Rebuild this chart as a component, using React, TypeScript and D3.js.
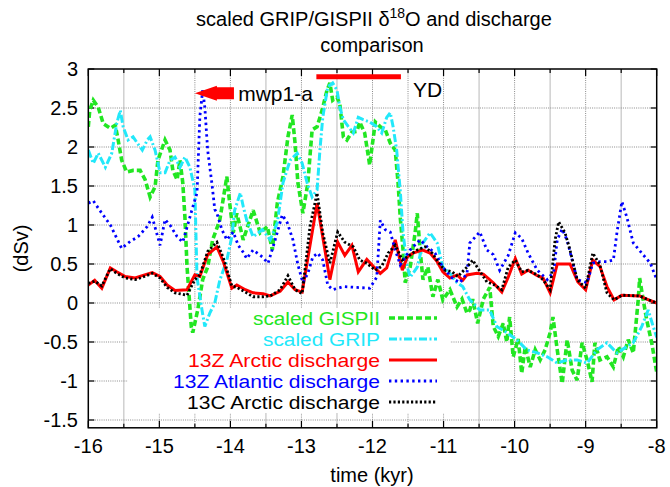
import React from "react";
import * as d3 from "d3";

// ---------------- data (time in kyr, value in dSv) ----------------
const xTicks = [-16, -15, -14, -13, -12, -11, -10, -9, -8];
const yTicks = [-1.5, -1, -0.5, 0, 0.5, 1, 1.5, 2, 2.5, 3];
const yTickLabels = ["-1.5", "-1", "-0.5", "0", "0.5", "1", "1.5", "2", "2.5", "3"];

const gispii: [number, number][] = [
  [-16.0, 2.26], [-15.98, 2.47], [-15.93, 2.6], [-15.86, 2.51], [-15.79, 2.3], [-15.69, 2.24], [-15.62, 2.28],
  [-15.58, 2.09], [-15.53, 1.83], [-15.46, 1.68], [-15.37, 1.7], [-15.27, 1.7], [-15.2, 1.58], [-15.13, 1.36],
  [-15.06, 1.49], [-15.02, 1.83], [-14.92, 2.09], [-14.85, 1.96], [-14.81, 1.7], [-14.75, 1.58], [-14.71, 1.83],
  [-14.67, 1.54], [-14.64, 1.1], [-14.61, 0.46], [-14.55, -0.31], [-14.53, -0.38], [-14.46, -0.09], [-14.39, 0.3],
  [-14.32, 0.46], [-14.25, 0.81], [-14.15, 1.06], [-14.05, 1.62], [-14.01, 1.28], [-13.96, 0.9], [-13.91, 1.15],
  [-13.82, 0.81], [-13.68, 1.19], [-13.58, 0.9], [-13.48, 0.98], [-13.41, 0.68], [-13.34, 1.28], [-13.26, 1.62],
  [-13.19, 2.13], [-13.13, 2.41], [-13.09, 2.05], [-13.05, 1.54], [-12.98, 1.15], [-12.91, 1.54], [-12.85, 2.22],
  [-12.78, 2.26], [-12.71, 2.47], [-12.64, 2.73], [-12.6, 2.82], [-12.56, 2.6], [-12.5, 2.64], [-12.46, 2.55],
  [-12.41, 2.13], [-12.36, 2.09], [-12.29, 2.19], [-12.22, 2.2], [-12.18, 2.32], [-12.11, 2.18], [-12.04, 1.77],
  [-11.96, 2.32], [-11.89, 2.26], [-11.82, 2.22], [-11.75, 2.05], [-11.68, 1.96], [-11.64, 1.54], [-11.61, 1.1],
  [-11.57, 0.68], [-11.54, 0.26], [-11.47, 0.46], [-11.4, 0.9], [-11.37, 1.15], [-11.33, 0.68], [-11.29, 0.3],
  [-11.22, 0.46], [-11.15, 0.08], [-11.08, 0.3], [-11.01, 0.04], [-10.91, 0.17], [-10.81, -0.05], [-10.74, 0.05],
  [-10.67, -0.13], [-10.63, -0.09], [-10.59, 0.05], [-10.52, -0.26], [-10.44, 0.05], [-10.35, 0.2], [-10.3, -0.3],
  [-10.23, -0.43], [-10.16, -0.26], [-10.11, -0.5], [-10.07, -0.18], [-10.02, -0.69], [-9.95, -0.46], [-9.9, -0.9],
  [-9.85, -0.56], [-9.78, -0.82], [-9.71, -0.6], [-9.64, -0.73], [-9.57, -0.6], [-9.5, -0.38], [-9.46, -0.18],
  [-9.4, -0.6], [-9.33, -1.03], [-9.26, -0.47], [-9.19, -0.86], [-9.12, -0.99], [-9.05, -0.51], [-8.98, -0.73],
  [-8.91, -1.01], [-8.87, -0.51], [-8.8, -0.73], [-8.7, -0.69], [-8.61, -0.82], [-8.54, -0.56], [-8.47, -0.69],
  [-8.4, -0.47], [-8.33, -0.64], [-8.26, 0.04], [-8.24, 0.32], [-8.19, 0.04], [-8.14, -0.22], [-8.07, -0.51],
  [-8.0, -0.89],
];

const grip: [number, number][] = [
  [-16.0, 1.96], [-15.93, 1.79], [-15.86, 1.92], [-15.76, 1.74], [-15.67, 1.92], [-15.6, 2.3], [-15.55, 2.47],
  [-15.51, 2.26], [-15.44, 2.09], [-15.37, 2.13], [-15.31, 2.05], [-15.24, 1.96], [-15.17, 2.09], [-15.13, 2.13],
  [-15.06, 1.96], [-14.99, 1.67], [-14.92, 1.67], [-14.85, 1.83], [-14.78, 1.87], [-14.71, 1.74], [-14.64, 1.87],
  [-14.57, 1.74], [-14.5, 1.45], [-14.47, 0.33], [-14.4, -0.09], [-14.36, -0.3], [-14.29, -0.13], [-14.22, 0.0],
  [-14.15, 0.29], [-14.05, 0.55], [-13.98, 0.85], [-13.94, 1.19], [-13.86, 1.41], [-13.82, 1.24], [-13.77, 1.06],
  [-13.68, 0.85], [-13.55, 0.94], [-13.44, 0.81], [-13.34, 1.03], [-13.26, 1.54], [-13.16, 1.83], [-13.06, 1.92],
  [-12.99, 1.79], [-12.92, 1.54], [-12.85, 1.36], [-12.78, 1.45], [-12.74, 1.96], [-12.7, 2.38], [-12.63, 2.77],
  [-12.56, 2.82], [-12.5, 2.73], [-12.46, 2.51], [-12.41, 2.35], [-12.34, 2.26], [-12.27, 2.18], [-12.2, 2.38],
  [-12.13, 2.35], [-12.04, 2.32], [-11.94, 2.26], [-11.87, 2.18], [-11.8, 2.38], [-11.75, 2.44], [-11.71, 2.26],
  [-11.66, 1.96], [-11.61, 1.45], [-11.57, 0.9], [-11.51, 0.46], [-11.47, 0.33], [-11.37, 0.46], [-11.29, 0.77],
  [-11.19, 0.9], [-11.09, 0.77], [-11.01, 0.46], [-10.91, 0.38], [-10.81, 0.26], [-10.73, 0.21], [-10.63, 0.04],
  [-10.49, -0.09], [-10.35, -0.09], [-10.25, -0.3], [-10.11, -0.38], [-9.97, -0.47], [-9.83, -0.6], [-9.68, -0.64],
  [-9.54, -0.69], [-9.4, -0.77], [-9.26, -0.73], [-9.12, -0.73], [-8.98, -0.77], [-8.84, -0.6], [-8.7, -0.51],
  [-8.56, -0.64], [-8.42, -0.56], [-8.33, -0.51], [-8.21, -0.3], [-8.12, -0.09], [-8.05, -0.3], [-8.0, -0.44],
];

const arctic13Z: [number, number][] = [
  [-16.0, 0.23], [-15.91, 0.29], [-15.81, 0.19], [-15.69, 0.45], [-15.6, 0.4], [-15.48, 0.34], [-15.34, 0.32],
  [-15.24, 0.35], [-15.1, 0.39], [-14.99, 0.34], [-14.89, 0.23], [-14.78, 0.16], [-14.61, 0.17], [-14.5, 0.36],
  [-14.43, 0.34], [-14.32, 0.62], [-14.19, 0.72], [-14.1, 0.53], [-13.98, 0.19], [-13.91, 0.23], [-13.79, 0.17],
  [-13.68, 0.13], [-13.54, 0.12], [-13.44, 0.09], [-13.3, 0.15], [-13.19, 0.27], [-13.09, 0.17], [-12.99, 0.14],
  [-12.78, 1.28], [-12.6, 0.3], [-12.49, 0.78], [-12.39, 0.61], [-12.29, 0.74], [-12.2, 0.4], [-12.08, 0.56],
  [-11.99, 0.47], [-11.89, 0.38], [-11.8, 0.45], [-11.68, 0.81], [-11.58, 0.42], [-11.51, 0.59], [-11.43, 0.64],
  [-11.3, 0.68], [-11.19, 0.64], [-11.09, 0.53], [-11.01, 0.4], [-10.91, 0.32], [-10.81, 0.36], [-10.73, 0.29],
  [-10.67, 0.36], [-10.53, 0.38], [-10.44, 0.37], [-10.3, 0.26], [-10.18, 0.14], [-10.09, 0.33], [-9.99, 0.57],
  [-9.9, 0.37], [-9.81, 0.42], [-9.68, 0.35], [-9.6, 0.32], [-9.5, 0.13], [-9.4, 0.5], [-9.22, 0.5], [-9.11, 0.27],
  [-9.0, 0.17], [-8.9, 0.55], [-8.8, 0.47], [-8.7, 0.21], [-8.6, 0.04], [-8.49, 0.1], [-8.24, 0.09], [-8.14, 0.05],
  [-8.0, 0.0],
];

const atlantic13Z: [number, number][] = [
  [-16.0, 1.28], [-15.93, 1.31], [-15.84, 1.19], [-15.69, 1.0], [-15.53, 0.7], [-15.41, 0.79], [-15.3, 0.85],
  [-15.17, 0.98], [-15.1, 1.1], [-14.99, 0.74], [-14.92, 1.07], [-14.85, 1.0], [-14.75, 0.85], [-14.67, 0.78],
  [-14.53, 1.23], [-14.47, 1.41], [-14.43, 2.39], [-14.39, 2.73], [-14.36, 2.51], [-14.32, 1.96], [-14.26, 1.53],
  [-14.22, 1.2], [-14.19, 1.15], [-14.12, 0.94], [-14.05, 0.81], [-13.96, 0.91], [-13.89, 0.74], [-13.82, 0.65],
  [-13.77, 0.57], [-13.68, 0.68], [-13.55, 0.59], [-13.47, 0.51], [-13.37, 0.81], [-13.27, 1.13], [-13.2, 1.03],
  [-13.12, 0.81], [-13.05, 0.49], [-12.98, 0.26], [-12.91, 0.38], [-12.84, 0.59], [-12.77, 0.64], [-12.7, 0.55],
  [-12.63, 0.23], [-12.56, 0.17], [-12.41, 0.21], [-12.22, 0.2], [-12.04, 0.19], [-11.94, 0.33], [-11.89, 1.06],
  [-11.82, 0.94], [-11.75, 0.91], [-11.68, 0.68], [-11.61, 0.49], [-11.47, 0.68], [-11.33, 0.81], [-11.23, 0.72],
  [-11.12, 0.64], [-11.01, 0.46], [-10.88, 0.32], [-10.77, 0.26], [-10.67, 0.38], [-10.63, 0.77], [-10.49, 0.91],
  [-10.39, 0.68], [-10.3, 0.62], [-10.21, 0.42], [-10.09, 0.61], [-9.99, 0.9], [-9.9, 0.83], [-9.81, 0.64],
  [-9.68, 0.42], [-9.54, 0.3], [-9.45, 0.4], [-9.4, 0.81], [-9.33, 0.95], [-9.26, 0.8], [-9.12, 0.3], [-8.98, 0.26],
  [-8.9, 0.51], [-8.8, 0.53], [-8.7, 0.53], [-8.61, 0.55], [-8.56, 0.9], [-8.49, 1.3], [-8.42, 1.1], [-8.33, 0.77],
  [-8.21, 0.64], [-8.09, 0.51], [-8.0, 0.3],
];

const arctic13C: [number, number][] = [
  [-16.0, 0.25], [-15.91, 0.28], [-15.81, 0.22], [-15.69, 0.44], [-15.6, 0.38], [-15.48, 0.32], [-15.34, 0.3],
  [-15.24, 0.33], [-15.1, 0.38], [-14.99, 0.32], [-14.89, 0.2], [-14.78, 0.13], [-14.61, 0.1], [-14.5, 0.3],
  [-14.43, 0.36], [-14.32, 0.66], [-14.19, 0.78], [-14.1, 0.58], [-13.98, 0.22], [-13.91, 0.2], [-13.79, 0.14],
  [-13.68, 0.08], [-13.54, 0.08], [-13.44, 0.09], [-13.3, 0.17], [-13.19, 0.35], [-13.09, 0.17], [-12.99, 0.12],
  [-12.88, 0.98], [-12.78, 1.41], [-12.7, 0.9], [-12.6, 0.51], [-12.49, 0.91], [-12.39, 0.78], [-12.27, 0.72],
  [-12.18, 0.55], [-12.08, 0.51], [-11.96, 0.42], [-11.87, 0.47], [-11.78, 0.64], [-11.68, 0.74], [-11.58, 0.55],
  [-11.5, 0.6], [-11.37, 0.68], [-11.26, 0.72], [-11.16, 0.64], [-11.08, 0.53], [-10.98, 0.42], [-10.88, 0.4],
  [-10.8, 0.34], [-10.67, 0.46], [-10.59, 0.55], [-10.52, 0.45], [-10.39, 0.27], [-10.3, 0.24], [-10.18, 0.17],
  [-10.09, 0.46], [-9.99, 0.55], [-9.9, 0.4], [-9.81, 0.42], [-9.68, 0.36], [-9.6, 0.3], [-9.5, 0.17], [-9.43, 0.81],
  [-9.38, 1.04], [-9.29, 0.9], [-9.22, 0.68], [-9.12, 0.3], [-9.0, 0.19], [-8.9, 0.64], [-8.8, 0.49], [-8.7, 0.13],
  [-8.6, 0.04], [-8.49, 0.1], [-8.24, 0.09], [-8.14, 0.05], [-8.0, 0.0],
];

const seriesNames = [
  "scaled GISPII",
  "scaled GRIP",
  "13Z Arctic discharge",
  "13Z Atlantic discharge",
  "13C Arctic discharge",
];

// annotations (data coordinates)
const ydBar = { t0: -12.79, t1: -11.6, v: 2.9, label: "YD", labelT: -11.43, labelV: 2.74 };
const mwpArrow = { tip: -14.5, tail: -13.95, v: 2.69, label: "mwp1-a", labelT: -13.89 };

// ---------------- layout ----------------
const W = 670;
const H = 487;
const L = 88.3;
const R = 656.7;
const T = 69;
const B = 427.8;
const FONT = "'Liberation Sans', Arial, Helvetica, sans-serif";
const LEGEND_FONT = 18.8;
const LEGEND_WIDTHS = [127, 117, 192, 207, 193];

export default function App() {
  const x = d3.scaleLinear().domain([-16, -8]).range([L, R]);
  const y = d3.scaleLinear().domain([-1.6, 3]).range([B, T]);
  const line = d3
    .line<[number, number]>()
    .x((d) => x(d[0]))
    .y((d) => y(d[1]));

  const styles = [
    { data: gispii, color: "#22e622", width: 3.6, dash: "6,3" },
    { data: grip, color: "#22e8fa", width: 3, dash: "8,2.5,2,2.5" },
    { data: arctic13Z, color: "#ff0000", width: 3, dash: undefined as string | undefined },
    { data: atlantic13Z, color: "#0000ff", width: 2.8, dash: "2.4,3.4" },
    { data: arctic13C, color: "#000000", width: 2.8, dash: "2.2,2.2" },
  ];

  const halfTicksX = d3.range(-15.5, -8, 0.5);
  const halfTicksY = d3.range(-1.5, 3, 0.5);
  const solidGrid = new Set([-15.5, -13.5, -12.5, -10.5, -9.5, -8.5]);

  // legend box (clears grid)
  const key = { x0: 128, x1: 450, y0: 308, y1: 413 };
  const legendTextX = 380;
  const legendLineX0 = 389;
  const legendLineX1 = 437;
  const legendMid = [318, 339, 360, 381, 402];

  const arrowY = y(mwpArrow.v);
  const tipX = x(mwpArrow.tip);
  const tailX = x(mwpArrow.tail);
  const headX = tipX + 22;
  const arrowPts = [
    [tipX, arrowY],
    [headX, arrowY - 7.5],
    [headX, arrowY - 6],
    [tailX, arrowY - 6],
    [tailX, arrowY + 6],
    [headX, arrowY + 6],
    [headX, arrowY + 7.5],
  ]
    .map((p) => p.join(","))
    .join(" ");

  return (
    <svg
      width={W}
      height={H}
      style={{ position: "absolute", left: 0, top: 0, background: "#fff" }}
      fontFamily={FONT}
    >
      <defs>
        <clipPath id="plotclip">
          <rect x={L} y={T} width={R - L} height={B - T} />
        </clipPath>
      </defs>
      <rect x={0} y={0} width={W} height={H} fill="#fff" />

      {/* grid */}
      {halfTicksX.map((t) =>
        solidGrid.has(t) ? (
          <line key={"gx" + t} x1={x(t)} x2={x(t)} y1={T} y2={B} stroke="#c4c4c4" strokeWidth={1.2} />
        ) : (
          <line key={"gx" + t} x1={x(t)} x2={x(t)} y1={T} y2={B} stroke="#8a8a8a" strokeWidth={1} strokeDasharray="1,1.2" />
        )
      )}
      {halfTicksY.map((v) => (
        <line key={"gy" + v} x1={L} x2={R} y1={y(v)} y2={y(v)} stroke="#8a8a8a" strokeWidth={1} strokeDasharray="1,1.2" />
      ))}

      {/* key area clears grid */}
      <rect x={key.x0} y={key.y0} width={key.x1 - key.x0} height={key.y1 - key.y0} fill="#fff" />

      {/* ticks */}
      {xTicks.map((t) => (
        <g key={"xt" + t}>
          <line x1={x(t)} x2={x(t)} y1={B} y2={B - 7} stroke="#000" strokeWidth={1.2} />
          <line x1={x(t)} x2={x(t)} y1={T} y2={T + 7} stroke="#000" strokeWidth={1.2} />
        </g>
      ))}
      {halfTicksX
        .filter((t) => !Number.isInteger(t))
        .map((t) => (
          <g key={"xm" + t}>
            <line x1={x(t)} x2={x(t)} y1={B} y2={B - 4} stroke="#000" strokeWidth={1.2} />
            <line x1={x(t)} x2={x(t)} y1={T} y2={T + 4} stroke="#000" strokeWidth={1.2} />
          </g>
        ))}
      {yTicks.map((v) => (
        <g key={"yt" + v}>
          <line x1={L} x2={L + 6} y1={y(v)} y2={y(v)} stroke="#000" strokeWidth={1.2} />
          <line x1={R} x2={R - 6} y1={y(v)} y2={y(v)} stroke="#000" strokeWidth={1.2} />
        </g>
      ))}

      {/* data */}
      <g clipPath="url(#plotclip)">
        {styles.map((s, i) => (
          <path
            key={"s" + i}
            d={line(s.data) || ""}
            fill="none"
            stroke={s.color}
            strokeWidth={s.width}
            strokeDasharray={s.dash}
            strokeLinejoin="miter"
            strokeMiterlimit={3}
          />
        ))}
      </g>

      {/* frame */}
      <rect x={L} y={T} width={R - L} height={B - T} fill="none" stroke="#000" strokeWidth={1.5} />

      {/* legend */}
      {styles.map((s, i) => (
        <g key={"lg" + i}>
          <text
            x={legendTextX - LEGEND_WIDTHS[i]}
            y={legendMid[i] + 7}
            fontSize={LEGEND_FONT}
            textLength={LEGEND_WIDTHS[i]}
            lengthAdjust="spacingAndGlyphs"
            fill={s.color}
          >
            {seriesNames[i]}
          </text>
          <line
            x1={legendLineX0}
            x2={legendLineX1}
            y1={legendMid[i]}
            y2={legendMid[i]}
            stroke={s.color}
            strokeWidth={s.width}
            strokeDasharray={s.dash}
          />
        </g>
      ))}

      {/* annotations */}
      <line x1={x(ydBar.t0)} x2={x(ydBar.t1)} y1={y(ydBar.v)} y2={y(ydBar.v)} stroke="#ff0000" strokeWidth={5} />
      <text x={x(ydBar.labelT)} y={y(ydBar.labelV) + 7.5} fontSize={21} fill="#000">
        {ydBar.label}
      </text>
      <polygon points={arrowPts} fill="#ff0000" />
      <text x={x(mwpArrow.labelT)} y={arrowY + 8} fontSize={21} fill="#000">
        {mwpArrow.label}
      </text>

      {/* tick labels */}
      {xTicks.map((t) => (
        <text key={"xl" + t} x={x(t)} y={453} textAnchor="middle" fontSize={20} fill="#000">
          {String(t)}
        </text>
      ))}
      {yTicks.map((v, i) => (
        <text key={"yl" + v} x={78} y={y(v) + 7} textAnchor="end" fontSize={20} fill="#000">
          {yTickLabels[i]}
        </text>
      ))}

      {/* titles */}
      <text x={374} y={26} textAnchor="middle" fontSize={20} fill="#000">
        scaled GRIP/GISPII δ<tspan dy={-8} fontSize={14}>18</tspan>
        <tspan dy={8}>O and discharge</tspan>
      </text>
      <text x={372} y={52} textAnchor="middle" fontSize={20} fill="#000">
        comparison
      </text>
      <text x={372} y={482} textAnchor="middle" fontSize={20} fill="#000">
        time (kyr)
      </text>
      <text
        transform={`translate(28,${(T + B) / 2}) rotate(-90)`}
        textAnchor="middle"
        fontSize={20}
        fill="#000"
      >
        (dSv)
      </text>
    </svg>
  );
}
